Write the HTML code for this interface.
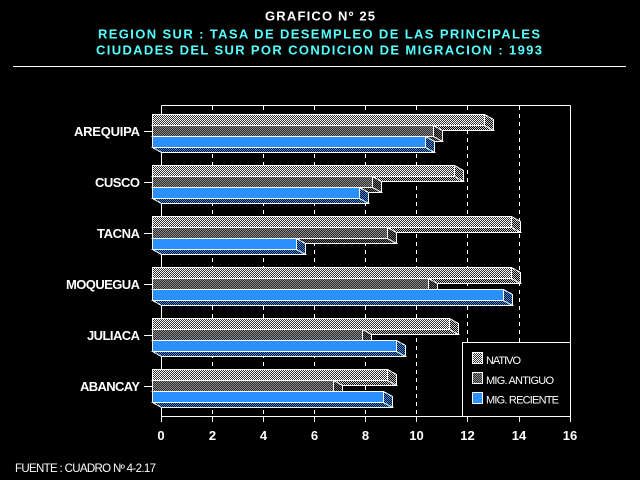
<!DOCTYPE html>
<html>
<head>
<meta charset="utf-8">
<style>
  html,body{margin:0;padding:0;background:#000;}
  svg{display:block;}
  text{font-family:"Liberation Sans", Arial, sans-serif;}
</style>
</head>
<body>
<svg width="640" height="480" viewBox="0 0 640 480" xmlns="http://www.w3.org/2000/svg" shape-rendering="crispEdges">
  <defs>
    <pattern id="pNat" width="2" height="2" patternUnits="userSpaceOnUse">
      <rect width="2" height="2" fill="#303030"/>
      <rect x="0" y="0" width="1" height="1" fill="#ffffff"/>
      <rect x="1" y="1" width="1" height="1" fill="#ffffff"/>
    </pattern>
    <pattern id="pNatD" width="2" height="2" patternUnits="userSpaceOnUse">
      <rect width="2" height="2" fill="#000"/>
      <rect x="0" y="0" width="1" height="1" fill="#c8c8c8"/>
      <rect x="1" y="1" width="1" height="1" fill="#c8c8c8"/>
    </pattern>
    <pattern id="pAnt" width="2" height="2" patternUnits="userSpaceOnUse">
      <rect width="2" height="2" fill="#2a2a2a"/>
      <rect x="0" y="0" width="1" height="1" fill="#8c8c8c"/>
      <rect x="1" y="1" width="1" height="1" fill="#8c8c8c"/>
    </pattern>
    <pattern id="pAntD" width="2" height="2" patternUnits="userSpaceOnUse">
      <rect width="2" height="2" fill="#000"/>
      <rect x="0" y="0" width="1" height="1" fill="#6a6a6a"/>
      <rect x="1" y="1" width="1" height="1" fill="#6a6a6a"/>
    </pattern>
    <pattern id="pRecD" width="2" height="2" patternUnits="userSpaceOnUse">
      <rect width="2" height="2" fill="#000"/>
      <rect x="0" y="0" width="1" height="1" fill="#2a90ff"/>
      <rect x="1" y="1" width="1" height="1" fill="#2a90ff"/>
    </pattern>
  </defs>

  <!-- background -->
  <rect x="0" y="0" width="640" height="480" fill="#000"/>

  <!-- titles -->
  <text x="265" y="20.5" font-size="13" font-weight="bold" fill="#fff" textLength="110" lengthAdjust="spacing">GRAFICO Nº 25</text>
  <text x="98" y="38.5" font-size="13" font-weight="bold" fill="#55ffff" textLength="442" lengthAdjust="spacing">REGION SUR : TASA DE DESEMPLEO DE LAS PRINCIPALES</text>
  <text x="96" y="54.5" font-size="13" font-weight="bold" fill="#55ffff" textLength="446" lengthAdjust="spacing">CIUDADES DEL SUR POR CONDICION DE MIGRACION : 1993</text>
  <line x1="13" y1="66.5" x2="626" y2="66.5" stroke="#fff" stroke-width="1"/>

  <!-- frame -->
  <g stroke="#fff" stroke-width="1" fill="none">
    <line x1="161.5" y1="105.5" x2="570.5" y2="105.5"/>
    <line x1="570.5" y1="105.5" x2="570.5" y2="422"/>
    <line x1="161.5" y1="105.5" x2="161.5" y2="422"/>
    <line x1="161.5" y1="416.5" x2="570.5" y2="416.5"/>
  </g>
  <!-- dashed gridlines -->
  <g stroke="#fff" stroke-width="1" stroke-dasharray="4 4">
    <line x1="212.5" y1="106" x2="212.5" y2="416"/>
    <line x1="263.5" y1="106" x2="263.5" y2="416"/>
    <line x1="314.5" y1="106" x2="314.5" y2="416"/>
    <line x1="365.5" y1="106" x2="365.5" y2="416"/>
    <line x1="416.5" y1="106" x2="416.5" y2="416"/>
    <line x1="467.5" y1="106" x2="467.5" y2="416"/>
    <line x1="519.5" y1="106" x2="519.5" y2="416"/>
  </g>
  <!-- x ticks -->
  <g stroke="#fff" stroke-width="1">
    <line x1="212.5" y1="416" x2="212.5" y2="422"/>
    <line x1="263.5" y1="416" x2="263.5" y2="422"/>
    <line x1="314.5" y1="416" x2="314.5" y2="422"/>
    <line x1="365.5" y1="416" x2="365.5" y2="422"/>
    <line x1="416.5" y1="416" x2="416.5" y2="422"/>
    <line x1="467.5" y1="416" x2="467.5" y2="422"/>
    <line x1="519.5" y1="416" x2="519.5" y2="422"/>
  </g>
  <!-- category ticks -->
  <g stroke="#fff" stroke-width="1">
    <line x1="144" y1="131.5" x2="152" y2="131.5"/>
    <line x1="144" y1="182.5" x2="152" y2="182.5"/>
    <line x1="144" y1="233.5" x2="152" y2="233.5"/>
    <line x1="144" y1="284.5" x2="152" y2="284.5"/>
    <line x1="144" y1="335.5" x2="152" y2="335.5"/>
    <line x1="144" y1="386.5" x2="152" y2="386.5"/>
  </g>

  <!-- bars -->
  <g stroke="#fff" stroke-width="1" stroke-linejoin="miter">
    <!-- AREQUIPA -->
    <polygon points="152.5,125.5 484.5,125.5 493.5,130.5 161.5,130.5" fill="url(#pNatD)"/>
    <polygon points="484.5,114.5 493.5,119.5 493.5,130.5 484.5,125.5" fill="url(#pNatD)"/>
    <rect x="152.5" y="114.5" width="332" height="11" fill="url(#pNat)"/>
    <polygon points="152.5,136.5 433.5,136.5 442.5,141.5 161.5,141.5" fill="url(#pAntD)"/>
    <polygon points="433.5,125.5 442.5,130.5 442.5,141.5 433.5,136.5" fill="url(#pAntD)"/>
    <rect x="152.5" y="125.5" width="281" height="11" fill="url(#pAnt)"/>
    <polygon points="152.5,147.5 425.5,147.5 434.5,152.5 161.5,152.5" fill="url(#pRecD)"/>
    <polygon points="425.5,136.5 434.5,141.5 434.5,152.5 425.5,147.5" fill="url(#pRecD)"/>
    <rect x="152.5" y="136.5" width="273" height="11" fill="#2a90ff"/>

    <!-- CUSCO -->
    <polygon points="152.5,176.5 454.5,176.5 463.5,181.5 161.5,181.5" fill="url(#pNatD)"/>
    <polygon points="454.5,165.5 463.5,170.5 463.5,181.5 454.5,176.5" fill="url(#pNatD)"/>
    <rect x="152.5" y="165.5" width="302" height="11" fill="url(#pNat)"/>
    <polygon points="152.5,187.5 372.5,187.5 381.5,192.5 161.5,192.5" fill="url(#pAntD)"/>
    <polygon points="372.5,176.5 381.5,181.5 381.5,192.5 372.5,187.5" fill="url(#pAntD)"/>
    <rect x="152.5" y="176.5" width="220" height="11" fill="url(#pAnt)"/>
    <polygon points="152.5,198.5 359.5,198.5 368.5,203.5 161.5,203.5" fill="url(#pRecD)"/>
    <polygon points="359.5,187.5 368.5,192.5 368.5,203.5 359.5,198.5" fill="url(#pRecD)"/>
    <rect x="152.5" y="187.5" width="207" height="11" fill="#2a90ff"/>

    <!-- TACNA -->
    <polygon points="152.5,227.5 511.5,227.5 520.5,232.5 161.5,232.5" fill="url(#pNatD)"/>
    <polygon points="511.5,216.5 520.5,221.5 520.5,232.5 511.5,227.5" fill="url(#pNatD)"/>
    <rect x="152.5" y="216.5" width="359" height="11" fill="url(#pNat)"/>
    <polygon points="152.5,238.5 387.5,238.5 396.5,243.5 161.5,243.5" fill="url(#pAntD)"/>
    <polygon points="387.5,227.5 396.5,232.5 396.5,243.5 387.5,238.5" fill="url(#pAntD)"/>
    <rect x="152.5" y="227.5" width="235" height="11" fill="url(#pAnt)"/>
    <polygon points="152.5,249.5 296.5,249.5 305.5,254.5 161.5,254.5" fill="url(#pRecD)"/>
    <polygon points="296.5,238.5 305.5,243.5 305.5,254.5 296.5,249.5" fill="url(#pRecD)"/>
    <rect x="152.5" y="238.5" width="144" height="11" fill="#2a90ff"/>

    <!-- MOQUEGUA -->
    <polygon points="152.5,278.5 511.5,278.5 520.5,283.5 161.5,283.5" fill="url(#pNatD)"/>
    <polygon points="511.5,267.5 520.5,272.5 520.5,283.5 511.5,278.5" fill="url(#pNatD)"/>
    <rect x="152.5" y="267.5" width="359" height="11" fill="url(#pNat)"/>
    <polygon points="152.5,289.5 428.5,289.5 437.5,294.5 161.5,294.5" fill="url(#pAntD)"/>
    <polygon points="428.5,278.5 437.5,283.5 437.5,294.5 428.5,289.5" fill="url(#pAntD)"/>
    <rect x="152.5" y="278.5" width="276" height="11" fill="url(#pAnt)"/>
    <polygon points="152.5,300.5 503.5,300.5 512.5,305.5 161.5,305.5" fill="url(#pRecD)"/>
    <polygon points="503.5,289.5 512.5,294.5 512.5,305.5 503.5,300.5" fill="url(#pRecD)"/>
    <rect x="152.5" y="289.5" width="351" height="11" fill="#2a90ff"/>

    <!-- JULIACA -->
    <polygon points="152.5,329.5 449.5,329.5 458.5,334.5 161.5,334.5" fill="url(#pNatD)"/>
    <polygon points="449.5,318.5 458.5,323.5 458.5,334.5 449.5,329.5" fill="url(#pNatD)"/>
    <rect x="152.5" y="318.5" width="297" height="11" fill="url(#pNat)"/>
    <polygon points="152.5,340.5 362.5,340.5 371.5,345.5 161.5,345.5" fill="url(#pAntD)"/>
    <polygon points="362.5,329.5 371.5,334.5 371.5,345.5 362.5,340.5" fill="url(#pAntD)"/>
    <rect x="152.5" y="329.5" width="210" height="11" fill="url(#pAnt)"/>
    <polygon points="152.5,351.5 396.5,351.5 405.5,356.5 161.5,356.5" fill="url(#pRecD)"/>
    <polygon points="396.5,340.5 405.5,345.5 405.5,356.5 396.5,351.5" fill="url(#pRecD)"/>
    <rect x="152.5" y="340.5" width="244" height="11" fill="#2a90ff"/>

    <!-- ABANCAY -->
    <polygon points="152.5,380.5 387.5,380.5 396.5,385.5 161.5,385.5" fill="url(#pNatD)"/>
    <polygon points="387.5,369.5 396.5,374.5 396.5,385.5 387.5,380.5" fill="url(#pNatD)"/>
    <rect x="152.5" y="369.5" width="235" height="11" fill="url(#pNat)"/>
    <polygon points="152.5,391.5 333.5,391.5 342.5,396.5 161.5,396.5" fill="url(#pAntD)"/>
    <polygon points="333.5,380.5 342.5,385.5 342.5,396.5 333.5,391.5" fill="url(#pAntD)"/>
    <rect x="152.5" y="380.5" width="181" height="11" fill="url(#pAnt)"/>
    <polygon points="152.5,402.5 383.5,402.5 392.5,407.5 161.5,407.5" fill="url(#pRecD)"/>
    <polygon points="383.5,391.5 392.5,396.5 392.5,407.5 383.5,402.5" fill="url(#pRecD)"/>
    <rect x="152.5" y="391.5" width="231" height="11" fill="#2a90ff"/>
  </g>

  <!-- category labels -->
  <g font-size="13" font-weight="bold" fill="#fff">
    <text x="74" y="136" textLength="66" lengthAdjust="spacing">AREQUIPA</text>
    <text x="95" y="187" textLength="45" lengthAdjust="spacing">CUSCO</text>
    <text x="97" y="238" textLength="43" lengthAdjust="spacing">TACNA</text>
    <text x="66" y="289" textLength="74" lengthAdjust="spacing">MOQUEGUA</text>
    <text x="87" y="340" textLength="53" lengthAdjust="spacing">JULIACA</text>
    <text x="80" y="391" textLength="60" lengthAdjust="spacing">ABANCAY</text>
  </g>

  <!-- x axis labels -->
  <g font-size="13" font-weight="bold" fill="#fff" text-anchor="middle">
    <text x="161" y="440">0</text>
    <text x="212.5" y="440">2</text>
    <text x="263.5" y="440">4</text>
    <text x="314.5" y="440">6</text>
    <text x="365.5" y="440">8</text>
    <text x="416.5" y="440">10</text>
    <text x="467.5" y="440">12</text>
    <text x="519" y="440">14</text>
    <text x="570" y="440">16</text>
  </g>

  <!-- legend -->
  <rect x="462.5" y="342.5" width="108" height="74" fill="#000" stroke="#fff" stroke-width="1"/>
  <g stroke="#fff" stroke-width="1">
    <rect x="472.5" y="352.5" width="10" height="11" fill="url(#pNat)"/>
    <rect x="472.5" y="372.5" width="10" height="11" fill="url(#pAnt)"/>
    <rect x="472.5" y="392.5" width="10" height="11" fill="#2a90ff"/>
  </g>
  <g font-size="11" fill="#fff">
    <text x="486" y="364" textLength="35" lengthAdjust="spacing">NATIVO</text>
    <text x="486" y="384" textLength="68" lengthAdjust="spacing">MIG. ANTIGUO</text>
    <text x="486" y="403.5" textLength="73" lengthAdjust="spacing">MIG. RECIENTE</text>
  </g>

  <!-- footer -->
  <text x="15" y="472" font-size="11.5" fill="#fff" textLength="141" lengthAdjust="spacing">FUENTE : CUADRO Nº 4-2.17</text>
</svg>
</body>
</html>
